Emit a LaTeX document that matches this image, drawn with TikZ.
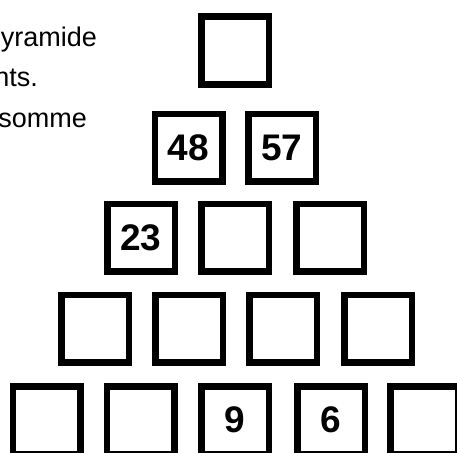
\documentclass[tikz,border=0pt]{standalone}
\usepackage{fontspec}
\setmainfont{Liberation Sans}
\begin{document}
\begin{tikzpicture}[x=1pt,y=-1pt,
  cell/.style={draw, line width=6.5pt, minimum size=67.5pt, inner sep=0pt,
    font=\fontsize{37}{40}\selectfont\bfseries},
  txt/.style={font=\fontsize{27}{30}\selectfont, inner sep=0pt, anchor=base east}]
\useasboundingbox (0,0) rectangle (457,452);
\clip (0,0) rectangle (457,452);
% text fragments
\node[txt] (t1) at (97,47) {yramide};
\node[txt] (t2) at (38,86) {nts.};
\node[txt] (t3) at (87,127) {somme};
% row 1
\node[cell] (a1) at (235,50.5) {};
% row 2
\node[cell] (b1) at (188.5,147.5) {48};
\node[cell] (b2) at (282,147.5) {57};
% row 3
\node[cell] (c1) at (141,237.5) {23};
\node[cell] (c2) at (235,237.5) {};
\node[cell] (c3) at (330,237.5) {};
% row 4
\node[cell] (d1) at (95,328.5) {};
\node[cell] (d2) at (189,328.5) {};
\node[cell] (d3) at (283,328.5) {};
\node[cell] (d4) at (378,328.5) {};
% row 5
\node[cell] (e1) at (46.5,420) {};
\node[cell] (e2) at (140.5,420) {};
\node[cell] (e3) at (235,420) {9};
\node[cell] (e4) at (331,420) {6};
\node[cell] (e5) at (424,420) {};
\end{tikzpicture}
\end{document}
